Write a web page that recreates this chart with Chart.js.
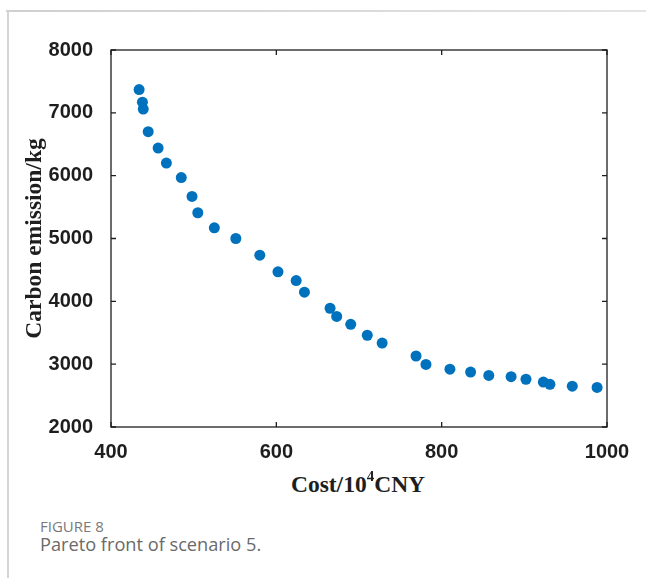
<!DOCTYPE html>
<html>
<head>
<meta charset="utf-8">
<script src="https://cdn.jsdelivr.net/npm/chart.js@4.4.1/dist/chart.umd.min.js"></script>
<style>
  body { margin: 0; background: #fff; }
  #wrap { position: relative; width: 646px; height: 578px; overflow: hidden; background: #fff; }
  #topLine { position: absolute; left: 6px; right: 0; top: 10px; height: 2px; background: linear-gradient(to right, #cfcfcf, #e4e4e4); }
  #leftLine { position: absolute; left: 7px; top: 10px; bottom: 0; width: 2px; background: #d4d4d4; }
  #chartBox { position: absolute; left: 0; top: 0; width: 646px; height: 470px; }
  #xTitle { position: absolute; left: 258px; width: 200px; top: 470px; text-align: center;
            font: bold 23.5px "Liberation Serif", "Times New Roman", serif; color: #1e1e1e; }
  #xTitle sup { font-size: 15px; position: relative; top: -2px; }
  #figNum { position: absolute; left: 40px; top: 516px; font: 15px "Open Sans", sans-serif; color: #7a7a7a; }
  #figText { position: absolute; left: 40px; top: 532px; font: 18.2px "Open Sans", sans-serif; color: #6a6a6a; }
</style>
</head>
<body>
<div id="wrap">
  <div id="topLine"></div>
  <div id="leftLine"></div>
  <div id="chartBox"><canvas id="paretoChart" width="646" height="470"></canvas></div>
  <div id="xTitle">Cost/10<sup>4</sup>CNY</div>
  <div id="figNum">FIGURE 8</div>
  <div id="figText">Pareto front of scenario 5.</div>
</div>
<script>
// --- DATA ---
const costValues = [434, 438, 439, 445, 457, 467, 485, 498, 505, 525,
                    551, 580, 602, 624, 634, 665, 673, 690, 710, 728,
                    769, 781, 810, 835, 857, 884, 902, 923, 931, 958, 988];
const emissionValues = [7370, 7170, 7060, 6700, 6440, 6200, 5970, 5670, 5410, 5170,
                        5000, 4735, 4470, 4330, 4145, 3890, 3760, 3635, 3460, 3335,
                        3130, 2995, 2920, 2875, 2820, 2800, 2760, 2715, 2680, 2650, 2630];
const xTicks = [400, 600, 800, 1000];
const yTicks = [2000, 3000, 4000, 5000, 6000, 7000, 8000];

const axisColor = '#1e1e1e';
const dotColor = '#0072BD';

// box round the plot plus MATLAB-style inner tick marks on all four sides
const frameTicks = {
    id: 'frameTicks',
    afterDraw(chart) {
        const { ctx, chartArea: a, scales } = chart;
        const len = 5;
        ctx.save();
        ctx.strokeStyle = axisColor;
        ctx.lineWidth = 1.3;
        ctx.strokeRect(a.left, a.top, a.right - a.left, a.bottom - a.top);
        ctx.beginPath();
        xTicks.forEach(v => {
            const px = scales.x.getPixelForValue(v);
            ctx.moveTo(px, a.bottom); ctx.lineTo(px, a.bottom - len);
            ctx.moveTo(px, a.top); ctx.lineTo(px, a.top + len);
        });
        yTicks.forEach(v => {
            const py = scales.y.getPixelForValue(v);
            ctx.moveTo(a.left, py); ctx.lineTo(a.left + len, py);
            ctx.moveTo(a.right, py); ctx.lineTo(a.right - len, py);
        });
        ctx.stroke();
        ctx.restore();
    }
};

const tickFont = { family: '"Liberation Sans", Arial, sans-serif', size: 20, weight: 'bold' };

const ctx = document.getElementById('paretoChart').getContext('2d');
new Chart(ctx, {
    type: 'scatter',
    data: {
        datasets: [{
            data: costValues.map((c, i) => ({ x: c, y: emissionValues[i] })),
            backgroundColor: dotColor,
            borderColor: dotColor,
            pointRadius: 5.5,
            borderWidth: 0
        }]
    },
    options: {
        responsive: false,
        animation: false,
        layout: { padding: { top: 50, right: 39, left: 0, bottom: 0 } },
        plugins: { legend: { display: false }, tooltip: { enabled: false } },
        scales: {
            x: {
                type: 'linear', min: 400, max: 1000,
                afterBuildTicks: s => { s.ticks = xTicks.map(v => ({ value: v })); },
                afterFit: s => { s.height = 43; },
                grid: { display: false },
                border: { display: false },
                ticks: { font: tickFont, color: axisColor, padding: 5, callback: v => String(v) }
            },
            y: {
                type: 'linear', min: 2000, max: 8000,
                afterBuildTicks: s => { s.ticks = yTicks.map(v => ({ value: v })); },
                afterFit: s => { s.width = 111; },
                grid: { display: false },
                border: { display: false },
                ticks: { font: tickFont, color: axisColor, padding: 10, callback: v => String(v) },
                title: {
                    display: true,
                    text: 'Carbon emission/kg',
                    color: axisColor,
                    font: { family: '"Liberation Serif", "Times New Roman", serif', size: 23.5, weight: 'bold', lineHeight: 1 },
                    padding: { top: 23, bottom: 0 }
                }
            }
        }
    },
    plugins: [frameTicks]
});
</script>
</body>
</html>
